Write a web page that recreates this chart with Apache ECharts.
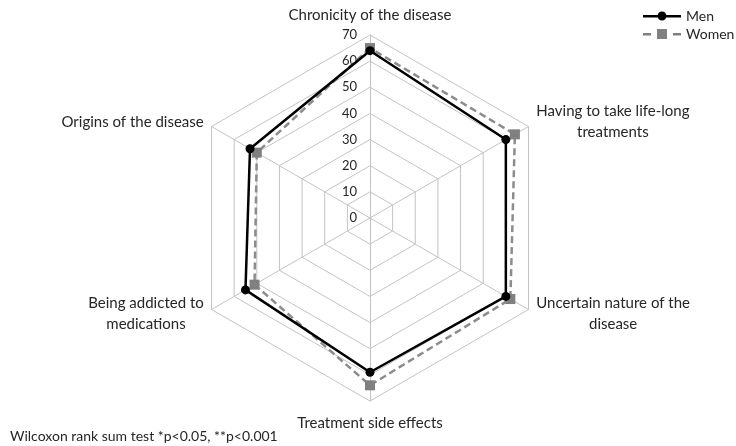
<!DOCTYPE html>
<html>
<head>
<meta charset="utf-8">
<script src="https://cdn.jsdelivr.net/npm/echarts@6/dist/echarts.min.js"></script>
<style>
  html, body { margin: 0; padding: 0; background: #fff; }
  #chart { width: 736px; height: 446px; }
</style>
</head>
<body>
<div id="chart"></div>
<script>
// radar axes run counter-clockwise from the top in ECharts,
// so the categories are listed top, upper-left, lower-left, bottom, lower-right, upper-right
const categories = [
  'Chronicity of the disease',
  'Origins of the disease',
  'Being addicted to\nmedications',
  'Treatment side effects',
  'Uncertain nature of the\ndisease',
  'Having to take life-long\ntreatments'
]
const menValues = [64, 53, 55, 59, 60, 60]
const womenValues = [65, 50, 51, 64, 62, 64]
const axisMax = 70
const axisStep = 10
const note = 'Wilcoxon rank sum test *p<0.05, **p<0.001'

const FONT = 'Lato'
const center = [370, 218]
const radius = 183

const chart = echarts.init(document.getElementById('chart'))

const option = {
  animation: false,
  textStyle: { fontFamily: FONT },
  title: {
    text: note,
    left: 10,
    top: 429,
    padding: 0,
    textStyle: { fontSize: 14, fontWeight: 'normal', color: '#262626', fontFamily: FONT }
  },
  legend: {
    orient: 'vertical',
    left: 643,
    top: 9,
    padding: 0,
    itemWidth: 38,
    itemHeight: 10,
    itemGap: 4,
    textStyle: { fontSize: 14, color: '#262626', fontFamily: FONT },
    data: [
      { name: 'Men', icon: 'path://M0,4H38V6.5H0Z M14.5,5A4.5,4.5,0,1,1,23.5,5A4.5,4.5,0,1,1,14.5,5Z' },
      { name: 'Women', icon: 'path://M0,4H8V6.5H0Z M14,0H24V10H14Z M30,4H38V6.5H30Z' }
    ]
  },
  radar: {
    center: center,
    radius: radius,
    startAngle: 90,
    shape: 'polygon',
    splitNumber: axisMax / axisStep,
    indicator: categories.map(name => ({ name, min: 0, max: axisMax })),
    nameGap: 9,
    axisName: {
      color: '#262626',
      fontSize: 15,
      fontFamily: FONT,
      formatter: name => {
        const lines = name.split('\n').map(s => `{c|${s}}`)
        // small spacer so the bottom label sits a bit lower, like the original
        if (name === categories[3]) lines.unshift('{s| }')
        return lines.join('\n')
      },
      rich: {
        c: { align: 'center', fontSize: 15, lineHeight: 21, color: '#262626', fontFamily: FONT },
        s: { fontSize: 2, lineHeight: 3 }
      }
    },
    axisLine: { lineStyle: { color: '#c3c3c3', width: 1 } },
    splitLine: { lineStyle: { color: '#c3c3c3', width: 1 } },
    splitArea: { show: false }
  },
  polar: { center: center, radius: radius },
  angleAxis: { show: false, startAngle: 90, min: 0, max: 360 },
  radiusAxis: {
    min: 0,
    max: axisMax,
    interval: axisStep,
    axisLine: { show: false },
    axisTick: { show: false },
    splitLine: { show: false },
    axisLabel: { margin: 13, fontSize: 13, color: '#262626', fontFamily: FONT }
  },
  series: [
    {
      name: 'Men',
      type: 'radar',
      z: 3,
      symbol: 'circle',
      symbolSize: 9,
      itemStyle: { color: '#000000' },
      lineStyle: { color: '#000000', width: 2.5 },
      data: [{ value: menValues, name: 'Men' }]
    },
    {
      name: 'Women',
      type: 'radar',
      z: 2,
      symbol: 'rect',
      symbolSize: 10,
      itemStyle: { color: '#808080' },
      lineStyle: { color: '#8c8c8c', width: 2.5, type: [7, 4] },
      data: [{ value: womenValues, name: 'Women' }]
    }
  ]
}

chart.setOption(option)
window.addEventListener('resize', () => chart.resize())
</script>
</body>
</html>
